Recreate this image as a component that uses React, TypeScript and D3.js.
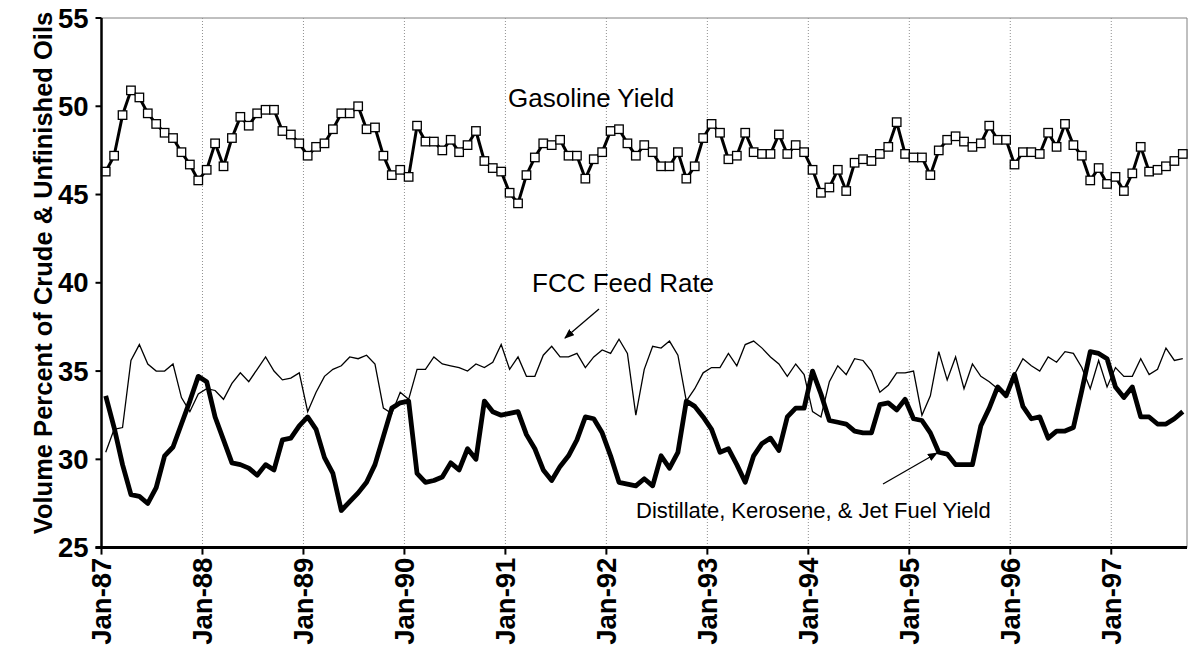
import React from "react";
import * as d3 from "d3";

const tickLabels = ["Jan-87","Jan-88","Jan-89","Jan-90","Jan-91","Jan-92","Jan-93","Jan-94","Jan-95","Jan-96","Jan-97"];
const yTicks = [25, 30, 35, 40, 45, 50, 55];

const gasoline = [
  46.3, 47.2, 49.5, 50.9, 50.5, 49.6, 49.0, 48.5, 48.2, 47.4, 46.7, 45.8, 46.4, 47.9, 46.6, 48.2, 49.4, 48.9, 49.6, 49.8, 49.8, 48.6, 48.4, 47.9, 47.2,
  47.7, 47.9, 48.7, 49.6, 49.6, 50.0, 48.7, 48.8, 47.2, 46.1, 46.4, 46.0, 48.9, 48.0, 48.0, 47.5, 48.1, 47.4, 47.8, 48.6, 46.9, 46.5, 46.3, 45.1, 44.5,
  46.1, 47.1, 47.9, 47.8, 48.1, 47.2, 47.2, 45.9, 47.0, 47.4, 48.6, 48.7, 47.9, 47.2, 47.8, 47.4, 46.6, 46.6, 47.4, 45.9, 46.6, 48.2, 49.0, 48.5, 47.0,
  47.2, 48.5, 47.4, 47.3, 47.3, 48.4, 47.3, 47.8, 47.4, 46.4, 45.1, 45.4, 46.4, 45.2, 46.8, 47.0, 46.9, 47.3, 47.7, 49.1, 47.3, 47.1, 47.1, 46.1, 47.5,
  48.1, 48.3, 48.0, 47.7, 47.9, 48.9, 48.1, 48.1, 46.7, 47.4, 47.4, 47.3, 48.5, 47.7, 49.0, 47.8, 47.2, 45.8, 46.5, 45.6, 46.0, 45.2, 46.2, 47.7, 46.3, 46.4, 46.6, 46.9, 47.3
];

const fccFeed = [
  30.4, 31.7, 31.8, 35.6, 36.5, 35.4, 35.0, 35.0, 35.4, 33.5, 32.7, 33.7, 34.0, 33.9, 33.4, 34.3, 34.9, 34.4, 35.1, 35.8, 35.0, 34.5, 34.6, 34.9, 32.7,
  33.8, 34.7, 35.1, 35.3, 35.8, 35.7, 35.9, 35.4, 32.9, 32.6, 33.8, 33.4, 35.1, 35.1, 35.8, 35.4, 35.3, 35.2, 35.0, 35.4, 35.2, 35.5, 36.5, 35.1, 35.8,
  34.7, 34.7, 35.9, 36.4, 35.8, 35.8, 36.0, 35.2, 35.8, 36.2, 36.0, 36.8, 36.0, 32.5, 35.1, 36.4, 36.3, 36.7, 35.9, 33.3, 34.0, 34.9, 35.2, 35.2, 36.0,
  35.3, 36.5, 36.7, 36.3, 35.8, 35.4, 34.7, 35.4, 34.8, 32.7, 32.4, 34.4, 35.3, 34.8, 35.7, 35.6, 35.0, 33.8, 34.2, 34.9, 34.9, 35.0, 32.5, 33.6, 36.1,
  34.5, 35.8, 34.0, 35.4, 34.7, 34.4, 34.0, 33.7, 34.8, 35.7, 35.3, 35.0, 35.8, 35.5, 36.1, 36.0, 35.2, 34.0, 35.6, 34.1, 35.2, 34.7, 34.7, 35.7, 34.8, 35.1, 36.3, 35.6, 35.7
];

const distillate = [
  33.6, 31.8, 29.7, 28.0, 27.9, 27.5, 28.4, 30.2, 30.7, 32.0, 33.3, 34.7, 34.4, 32.4, 31.1, 29.8, 29.7, 29.5, 29.1, 29.7, 29.4, 31.1, 31.2, 31.9, 32.4,
  31.7, 30.1, 29.2, 27.1, 27.6, 28.1, 28.7, 29.7, 31.3, 32.9, 33.2, 33.3, 29.2, 28.7, 28.8, 29.0, 29.8, 29.4, 30.6, 30.0, 33.3, 32.7, 32.5, 32.6, 32.7,
  31.4, 30.6, 29.4, 28.8, 29.6, 30.2, 31.1, 32.4, 32.3, 31.5, 30.2, 28.7, 28.6, 28.5, 28.9, 28.5, 30.2, 29.5, 30.4, 33.3, 33.0, 32.4, 31.7, 30.4, 30.6,
  29.7, 28.7, 30.2, 30.9, 31.2, 30.5, 32.4, 32.9, 32.9, 35.0, 33.7, 32.2, 32.1, 32.0, 31.6, 31.5, 31.5, 33.1, 33.2, 32.8, 33.4, 32.3, 32.2, 31.5, 30.4,
  30.3, 29.7, 29.7, 29.7, 31.9, 32.9, 34.1, 33.6, 34.8, 33.0, 32.3, 32.4, 31.2, 31.6, 31.6, 31.8, 33.9, 36.1, 36.0, 35.7, 34.1, 33.5, 34.1, 32.4, 32.4, 32.0, 32.0, 32.3, 32.7
];

const FONT = "'Liberation Sans', Arial, Helvetica, sans-serif";

export default function App() {
  const W = 1193, H = 656;
  const left = 101.5, right = 1187, top = 18, bottom = 547.6;
  const nSlots = gasoline.length; // 129 months
  const x = d3.scaleLinear().domain([0, nSlots]).range([left, right]);
  const y = d3.scaleLinear().domain([25, 55]).range([bottom, top]);
  const px = (i: number) => x(i + 0.5);
  const line = d3.line<number>().x((_, i) => px(i)).y((d) => y(d));

  const yearTicks = tickLabels.map((_, k) => k * 12);
  const sq = 8.5;

  return (
    <div style={{ position: "absolute", left: 0, top: 0 }}>
      <svg width={W} height={H} style={{ display: "block", background: "#fff" }} fontFamily={FONT}>
        <defs>
          <marker id="ah" markerWidth="10" markerHeight="8" refX="9" refY="4" orient="auto" markerUnits="userSpaceOnUse" viewBox="0 0 10 8">
            <path d="M0,0 L10,4 L0,8 Z" fill="#000" />
          </marker>
        </defs>
        {/* plot area border */}
        <line x1={left} x2={right} y1={top} y2={top} stroke="#808080" strokeWidth={1} />
        <line x1={right} x2={right} y1={top} y2={bottom} stroke="#808080" strokeWidth={1} />
        {/* vertical gridlines */}
        {yearTicks.slice(1).map((t) => (
          <line key={t} x1={x(t)} x2={x(t)} y1={top} y2={bottom} stroke="#909090" strokeWidth={1} strokeDasharray="1,2" />
        ))}
        {/* FCC feed rate */}
        <path d={line(fccFeed) || ""} fill="none" stroke="#000" strokeWidth={1.3} strokeLinejoin="miter" />
        {/* Distillate */}
        <path d={line(distillate) || ""} fill="none" stroke="#000" strokeWidth={4.8} strokeLinejoin="round" />
        {/* Gasoline */}
        <path d={line(gasoline) || ""} fill="none" stroke="#000" strokeWidth={3} strokeLinejoin="round" />
        {gasoline.map((v, i) => (
          <rect key={i} x={px(i) - sq / 2} y={y(v) - sq / 2} width={sq} height={sq} fill="#fff" stroke="#000" strokeWidth={1.3} />
        ))}
        {/* axes */}
        <line x1={left} x2={left} y1={top} y2={bottom + 1} stroke="#000" strokeWidth={2.5} />
        <line x1={left - 6} x2={right} y1={bottom} y2={bottom} stroke="#000" strokeWidth={3} />
        {yTicks.map((t) => (
          <g key={t}>
            <line x1={left - 6} x2={left} y1={y(t)} y2={y(t)} stroke="#000" strokeWidth={2} />
            <text x={left - 13} y={y(t)} dy="0.35em" textAnchor="end" fontSize={27.5} fontWeight="bold">{t}</text>
          </g>
        ))}
        {yearTicks.map((t, k) => (
          <g key={t}>
            <line x1={x(t)} x2={x(t)} y1={bottom} y2={bottom + 7} stroke="#000" strokeWidth={2} />
            <text transform={`translate(${x(t)},${bottom + 10}) rotate(-90)`} dy="0.35em" textAnchor="end" fontSize={27.5} fontWeight="bold">{tickLabels[k]}</text>
          </g>
        ))}
        <text transform={`translate(43,273) rotate(-90)`} textAnchor="middle" dy="0.35em" fontSize={25.5} fontWeight="bold">Volume Percent of Crude &amp; Unfinished Oils</text>
        {/* annotations */}
        <text x={508} y={107} fontSize={26}>Gasoline Yield</text>
        <text x={532} y={292} fontSize={26}>FCC Feed Rate</text>
        <line x1={599} y1={309} x2={565} y2={338} stroke="#000" strokeWidth={1.3} markerEnd="url(#ah)" />
        <text x={636} y={518} fontSize={22}>Distillate, Kerosene, &amp; Jet Fuel Yield</text>
        <line x1={883} y1={484} x2={937} y2={453} stroke="#000" strokeWidth={1.3} markerEnd="url(#ah)" />
      </svg>
    </div>
  );
}
